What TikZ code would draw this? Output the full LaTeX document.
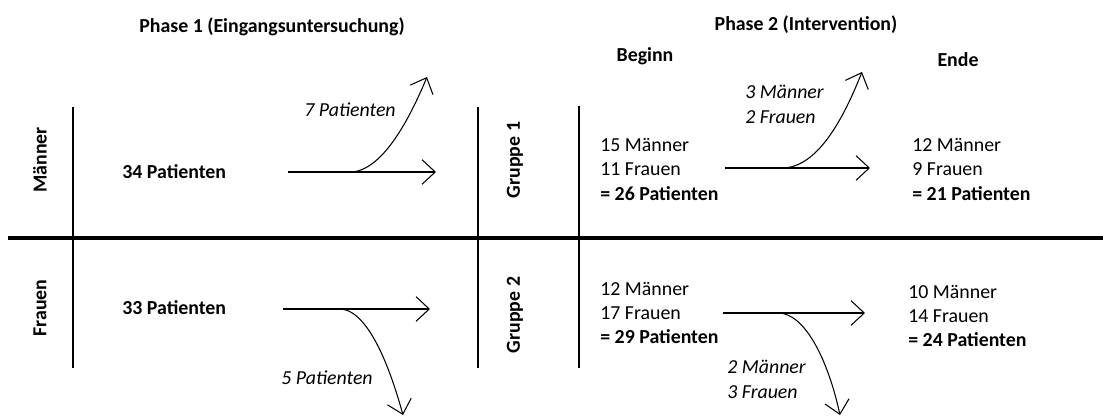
\documentclass[tikz,border=0pt]{standalone}
\usepackage{fontspec}
\setmainfont{Carlito}
\usetikzlibrary{arrows.meta}
\begin{document}
\begin{tikzpicture}[x=0.02cm,y=-0.02cm,
  every node/.style={font=\fontsize{11.3}{13.9}\selectfont, inner sep=0pt},
  hdr/.style={font=\fontsize{11.3}{13.9}\selectfont\bfseries},
  side/.style={font=\fontsize{11.3}{13.9}\selectfont\bfseries, rotate=90},
  lbl/.style={font=\fontsize{11.3}{13.9}\selectfont\itshape, align=left},
  cnt/.style={align=left, anchor=west},
  sep/.style={line width=0.6pt},
  flow/.style={line width=0.6pt, -{Straight Barb[length=7.5pt,width=14pt,line width=0.6pt]}}
]
\useasboundingbox (0,0) rectangle (1103,418);
% headings
\node[hdr] (p1) at (272,27) {Phase 1 (Eingangsuntersuchung)};
\node[hdr] (p2) at (806,25) {Phase 2 (Intervention)};
\node[hdr] (beg) at (645,56) {Beginn};
\node[hdr] (end) at (958,60) {Ende};
% separators
\coordinate (hl) at (8,238);
\coordinate (hr) at (1103,238);
\draw[line width=2.4pt] (hl) -- (hr);
\coordinate (v1t) at (73,107); \coordinate (v1b) at (73,368);
\coordinate (v2t) at (478,107); \coordinate (v2b) at (478,368);
\coordinate (v3t) at (579,106); \coordinate (v3b) at (579,368);
\draw[sep] (v1t) -- (v1b);
\draw[sep] (v2t) -- (v2b);
\draw[sep] (v3t) -- (v3b);
% side labels
\node[side] (m) at (40,160) {Männer};
\node[side] (f) at (40,308) {Frauen};
\node[side] (g1) at (515,160) {Gruppe 1};
\node[side] (g2) at (515,315) {Gruppe 2};
% phase 1
\node[hdr, anchor=west] (m34) at (122,172) {34 Patienten};
\node[hdr, anchor=west] (f33) at (122,308) {33 Patienten};
\node[lbl] (l7) at (350,110) {7 Patienten};
\node[lbl] (l5) at (327,378) {5 Patienten};
% phase 2
\node[cnt] (b1) at (600,169.5) {15 Männer\\11 Frauen\\\textbf{= 26 Patienten}};
\node[cnt] (e1) at (912,169.5) {12 Männer\\9 Frauen\\\textbf{= 21 Patienten}};
\node[cnt] (b2) at (600,313) {12 Männer\\17 Frauen\\\textbf{= 29 Patienten}};
\node[cnt] (e2) at (908,316) {10 Männer\\14 Frauen\\\textbf{= 24 Patienten}};
\node[lbl, anchor=west] (d1) at (745,104.5) {3 Männer\\2 Frauen};
\node[lbl, anchor=west] (d2) at (727,379.5) {2 Männer\\3 Frauen};
% arrows phase 1
\coordinate (a1s) at (288,172); \coordinate (a1e) at (436,172);
\coordinate (a1b) at (350,172); \coordinate (a1t) at (427,77);
\draw[flow] (a1s) -- (a1e);
\draw[flow] (a1b) .. controls (385,172) and (414,108) .. (a1t);
\coordinate (a2s) at (283,309); \coordinate (a2e) at (430,309);
\coordinate (a2b) at (340,309); \coordinate (a2t) at (403,415);
\draw[flow] (a2s) -- (a2e);
\draw[flow] (a2b) .. controls (370,310) and (392,375) .. (a2t);
% arrows phase 2
\coordinate (a3s) at (725,168); \coordinate (a3e) at (870,168);
\coordinate (a3b) at (783,168); \coordinate (a3t) at (862,72);
\draw[flow] (a3s) -- (a3e);
\draw[flow] (a3b) .. controls (820,167) and (846,112) .. (a3t);
\coordinate (a4s) at (723,313); \coordinate (a4e) at (865,313);
\coordinate (a4b) at (778,313); \coordinate (a4t) at (840,415);
\draw[flow] (a4s) -- (a4e);
\draw[flow] (a4b) .. controls (805,313) and (828,360) .. (a4t);
\end{tikzpicture}
\end{document}
